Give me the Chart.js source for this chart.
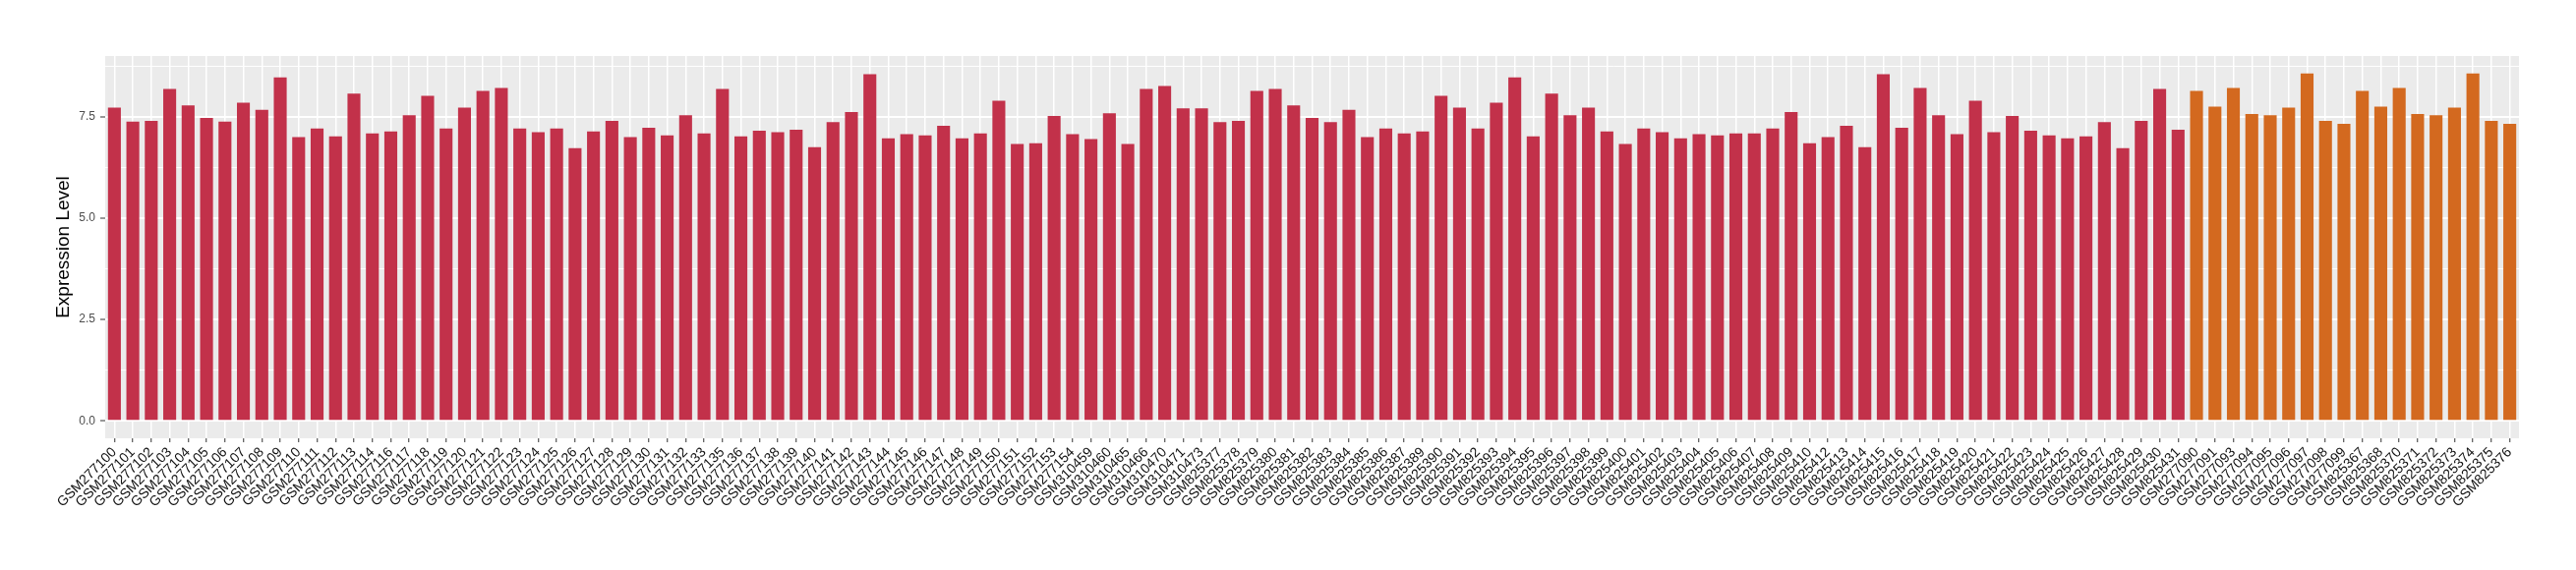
<!DOCTYPE html>
<html>
<head>
<meta charset="utf-8">
<script src="https://cdn.jsdelivr.net/npm/chart.js@4.4.1/dist/chart.umd.min.js"></script>
<style>
  body { margin: 0; background: #ffffff; }
  #wrap { width: 2620px; height: 580px; }
</style>
</head>
<body>
<div id="wrap"><canvas id="expr-canvas" width="2620" height="580"></canvas></div>
<script>
// samples in the first (red) group
const samplesA = [
    'GSM277100', 'GSM277101', 'GSM277102', 'GSM277103', 'GSM277104', 'GSM277105', 'GSM277106', 'GSM277107',
    'GSM277108', 'GSM277109', 'GSM277110', 'GSM277111', 'GSM277112', 'GSM277113', 'GSM277114', 'GSM277116',
    'GSM277117', 'GSM277118', 'GSM277119', 'GSM277120', 'GSM277121', 'GSM277122', 'GSM277123', 'GSM277124',
    'GSM277125', 'GSM277126', 'GSM277127', 'GSM277128', 'GSM277129', 'GSM277130', 'GSM277131', 'GSM277132',
    'GSM277133', 'GSM277135', 'GSM277136', 'GSM277137', 'GSM277138', 'GSM277139', 'GSM277140', 'GSM277141',
    'GSM277142', 'GSM277143', 'GSM277144', 'GSM277145', 'GSM277146', 'GSM277147', 'GSM277148', 'GSM277149',
    'GSM277150', 'GSM277151', 'GSM277152', 'GSM277153', 'GSM277154', 'GSM310459', 'GSM310460', 'GSM310465',
    'GSM310466', 'GSM310470', 'GSM310471', 'GSM310473', 'GSM825377', 'GSM825378', 'GSM825379', 'GSM825380',
    'GSM825381', 'GSM825382', 'GSM825383', 'GSM825384', 'GSM825385', 'GSM825386', 'GSM825387', 'GSM825389',
    'GSM825390', 'GSM825391', 'GSM825392', 'GSM825393', 'GSM825394', 'GSM825395', 'GSM825396', 'GSM825397',
    'GSM825398', 'GSM825399', 'GSM825400', 'GSM825401', 'GSM825402', 'GSM825403', 'GSM825404', 'GSM825405',
    'GSM825406', 'GSM825407', 'GSM825408', 'GSM825409', 'GSM825410', 'GSM825412', 'GSM825413', 'GSM825414',
    'GSM825415', 'GSM825416', 'GSM825417', 'GSM825418', 'GSM825419', 'GSM825420', 'GSM825421', 'GSM825422',
    'GSM825423', 'GSM825424', 'GSM825425', 'GSM825426', 'GSM825427', 'GSM825428', 'GSM825429', 'GSM825430',
    'GSM825431'
];
const valuesA = [
    7.73, 7.38, 7.40, 8.19, 7.78, 7.47, 7.38, 7.85,
    7.67, 8.47, 7.00, 7.21, 7.02, 8.07, 7.09, 7.14,
    7.54, 8.02, 7.21, 7.73, 8.14, 8.21, 7.21, 7.12,
    7.21, 6.73, 7.14, 7.40, 7.00, 7.23, 7.04, 7.54,
    7.09, 8.19, 7.02, 7.16, 7.12, 7.18, 6.75, 7.37,
    7.62, 8.55, 6.97, 7.07, 7.04, 7.28, 6.97, 7.09,
    7.90, 6.83, 6.85, 7.52, 7.07, 6.95, 7.59, 6.83,
    8.19, 8.26, 7.71, 7.71, 7.37, 7.40, 8.14, 8.19,
    7.78, 7.47, 7.37, 7.67, 7.00, 7.21, 7.09, 7.14,
    8.02, 7.73, 7.21, 7.85, 8.47, 7.02, 8.07, 7.54,
    7.73, 7.14, 6.83, 7.21, 7.12, 6.97, 7.07, 7.04,
    7.09, 7.09, 7.21, 7.62, 6.85, 7.00, 7.28, 6.75,
    8.55, 7.23, 8.21, 7.54, 7.07, 7.90, 7.12, 7.52,
    7.16, 7.04, 6.97, 7.02, 7.37, 6.73, 7.40, 8.19,
    7.18
];

// samples in the second (orange) group
const samplesB = [
    'GSM277090', 'GSM277091', 'GSM277093', 'GSM277094', 'GSM277095', 'GSM277096', 'GSM277097', 'GSM277098',
    'GSM277099', 'GSM825367', 'GSM825368', 'GSM825370', 'GSM825371', 'GSM825372', 'GSM825373', 'GSM825374',
    'GSM825375', 'GSM825376'
];
const valuesB = [
    8.14, 7.75, 8.21, 7.57, 7.54, 7.73, 8.57, 7.40,
    7.33, 8.14, 7.75, 8.21, 7.57, 7.54, 7.73, 8.57,
    7.40, 7.33
];

const yMajorTicks = [0, 2.5, 5, 7.5];
const yMinorTicks = [1.25, 3.75, 6.25, 8.75];

const colors = {
    groupA: '#C2314A',
    groupB: '#D3691F',
    panel: '#EBEBEB',
    grid: '#FFFFFF',
    tick: '#333333',
    tickText: '#4D4D4D',
    labelText: '#111111',
    title: '#000000'
};

const labels = samplesA.concat(samplesB);
const values = valuesA.concat(valuesB);
const barColors = labels.map((_, i) => i < samplesA.length ? colors.groupA : colors.groupB);

const isMajor = (v) => yMajorTicks.some(m => Math.abs(m - v) < 1e-6);

// grey ggplot-style panel behind the grid
const panelBackground = {
    id: 'panelBackground',
    beforeDraw(chart) {
        const { ctx, chartArea } = chart;
        ctx.save();
        ctx.fillStyle = colors.panel;
        ctx.fillRect(chartArea.left, chartArea.top, chartArea.right - chartArea.left, chartArea.bottom - chartArea.top);
        ctx.restore();
    }
};

const ctx = document.getElementById('expr-canvas').getContext('2d');

new Chart(ctx, {
    type: 'bar',
    data: {
        labels: labels,
        datasets: [{
            label: 'Expression Level',
            data: values,
            backgroundColor: barColors,
            borderWidth: 0,
            barPercentage: 0.7,
            categoryPercentage: 1.0
        }]
    },
    options: {
        responsive: false,
        devicePixelRatio: 1,
        animation: false,
        layout: {
            padding: { left: 0, top: 57, right: 58, bottom: 0 }
        },
        plugins: {
            legend: { display: false },
            tooltip: { enabled: false }
        },
        scales: {
            x: {
                offset: true,
                border: { display: false },
                grid: {
                    offset: false,
                    color: colors.grid,
                    lineWidth: 1.5,
                    drawTicks: true,
                    tickLength: 4,
                    tickColor: colors.tick,
                    tickWidth: 1
                },
                ticks: {
                    autoSkip: false,
                    maxRotation: 45,
                    minRotation: 45,
                    padding: 2,
                    color: colors.labelText,
                    font: { family: '"Liberation Sans", Arial, sans-serif', size: 14 }
                },
                afterFit(scale) {
                    scale.height = 134;
                }
            },
            y: {
                min: -0.43,
                max: 9.0,
                border: { display: false },
                afterBuildTicks(scale) {
                    scale.ticks = yMajorTicks.concat(yMinorTicks).map(v => ({ value: v }));
                },
                afterFit(scale) {
                    scale.width = 107;
                },
                grid: {
                    color: colors.grid,
                    lineWidth: (c) => (c.tick && isMajor(c.tick.value)) ? 2 : 1,
                    tickLength: 5,
                    tickColor: (c) => (c.tick && isMajor(c.tick.value)) ? colors.tick : 'rgba(0,0,0,0)',
                    tickWidth: 1
                },
                ticks: {
                    padding: 5,
                    color: colors.tickText,
                    font: { family: '"Liberation Sans", Arial, sans-serif', size: 12 },
                    callback: (v) => isMajor(v) ? Number(v).toFixed(1) : ''
                },
                title: {
                    display: true,
                    text: 'Expression Level',
                    color: colors.title,
                    font: { family: '"Liberation Sans", Arial, sans-serif', size: 19 },
                    padding: { top: 53, bottom: 0 }
                }
            }
        }
    },
    plugins: [panelBackground]
});
</script>
</body>
</html>
